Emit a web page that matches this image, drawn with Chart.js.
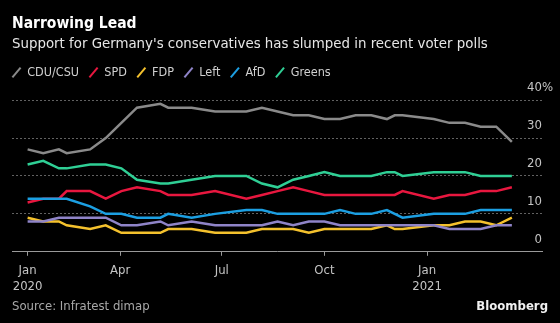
<!DOCTYPE html>
<html>
<head>
<meta charset="utf-8">
<title>Narrowing Lead</title>
<script src="https://cdn.jsdelivr.net/npm/chart.js@4.4.1/dist/chart.umd.min.js"></script>
<style>
  html, body { margin: 0; padding: 0; background: #000; }
  #chart-wrap { width: 560px; height: 323px; position: relative; }
</style>
</head>
<body>
<div id="chart-wrap"><canvas id="poll-chart"></canvas></div>
<script>
'use strict';

// POLL DATA (Infratest dimap, % of vote)

let pollDates = [
  '2020-01-09', '2020-01-23', '2020-02-06', '2020-02-13', '2020-03-05', '2020-03-19',
  '2020-04-02', '2020-04-16', '2020-05-07', '2020-05-14', '2020-06-04', '2020-06-25',
  '2020-07-23', '2020-08-06', '2020-08-20', '2020-09-03', '2020-09-17', '2020-10-01',
  '2020-10-15', '2020-10-29', '2020-11-12', '2020-11-26', '2020-12-03', '2020-12-10',
  '2021-01-07', '2021-01-21', '2021-02-04', '2021-02-18', '2021-03-04', '2021-03-18'
];

let cduCsu = [27, 26, 27, 26, 27, 30, 34, 38, 39, 38, 38, 37, 37, 38, 37, 36, 36, 35, 35, 36, 36, 35, 36, 36, 35, 34, 34, 33, 33, 29];
let spd = [13, 14, 14, 16, 16, 14, 16, 17, 16, 15, 15, 16, 14, 15, 16, 17, 16, 15, 15, 15, 15, 15, 15, 16, 14, 15, 15, 16, 16, 17];
let fdp = [9, 8, 8, 7, 6, 7, 5, 5, 5, 6, 6, 5, 5, 6, 6, 6, 5, 6, 6, 6, 6, 7, 6, 6, 7, 7, 8, 8, 7, 9];
let left = [8, 8, 9, 9, 9, 9, 7, 7, 8, 7, 8, 7, 7, 7, 8, 7, 8, 8, 7, 7, 7, 7, 7, 7, 7, 6, 6, 6, 7, 7];
let afd = [14, 14, 14, 14, 12, 10, 10, 9, 9, 10, 9, 10, 11, 11, 10, 10, 10, 10, 11, 10, 10, 11, 10, 9, 10, 10, 10, 11, 11, 11];
let greens = [23, 24, 22, 22, 23, 23, 22, 19, 18, 18, 19, 20, 20, 18, 17, 19, 20, 21, 20, 20, 20, 21, 21, 20, 21, 21, 21, 20, 20, 20];

let partyNames = ['CDU/CSU', 'SPD', 'FDP', 'Left', 'AfD', 'Greens'];
let partyValues = [cduCsu, spd, fdp, left, afd, greens];
let partyColors = ['#8a8a8a', '#e8173f', '#f4c12d', '#8f84c8', '#1c9fe2', '#2fcf95'];

// AXIS LABELS

let tickDates = ['2020-01-09', '2020-04-01', '2020-07-01', '2020-10-01', '2021-01-01'];
let tickLabels = [['Jan', '2020'], 'Apr', 'Jul', 'Oct', ['Jan', '2021']];
let yTicks = [0, 10, 20, 30, 40];
let xStart = '2019-12-26';
let xEnd = '2021-04-14';

// STYLE

let fontFamily = "'DejaVu Sans Condensed', 'DejaVu Sans', sans-serif";
let tickColor = '#c4c4c4';

// HELPERS

function dayNumber(dateStr) {
  let parts = dateStr.split('-');
  return (Date.UTC(+parts[0], +parts[1] - 1, +parts[2]) - Date.UTC(2020, 0, 1)) / 86400000;
}

let datasets = [];
for (let i = 0; i < partyNames.length; i++) {
  datasets.push({
    label: partyNames[i],
    data: pollDates.map((d, j) => ({ x: dayNumber(d), y: partyValues[i][j] })),
    borderColor: partyColors[i],
    backgroundColor: partyColors[i],
    borderWidth: 2.5,
    pointRadius: 0,
    tension: 0,
    order: partyNames.length - i
  });
}

// PLUGINS

// legend sits flush with the chart's left edge
let legendShift = {
  id: 'legendShift',
  afterLayout(chart) {
    let pad = chart.options.plugins.legend.labels.padding;
    chart.legend.left -= pad;
    chart.legend.right -= pad;
  }
};

// '%' after the top y label, source line and brand
let chartExtras = {
  id: 'chartExtras',
  afterDraw(chart) {
    let ctx = chart.ctx;
    let yScale = chart.scales.y;
    ctx.save();
    ctx.textBaseline = 'middle';
    ctx.font = '13px ' + fontFamily;
    ctx.fillStyle = tickColor;
    ctx.textAlign = 'left';
    ctx.fillText('%', yScale.left, yScale.getPixelForValue(yTicks[yTicks.length - 1]) - 12.5);

    ctx.fillStyle = '#a8a8a8';
    ctx.fillText('Source: Infratest dimap', chart.chartArea.left, chart.height - 16);

    ctx.font = 'bold 13px ' + fontFamily;
    ctx.fillStyle = '#f0f0f0';
    ctx.textAlign = 'right';
    ctx.fillText('Bloomberg', chart.width - 12, chart.height - 16);
    ctx.restore();
  }
};

// CHART

let ctx = document.getElementById('poll-chart').getContext('2d');

Chart.defaults.font.family = fontFamily;

new Chart(ctx, {
  type: 'line',
  data: { datasets: datasets },
  options: {
    responsive: true,
    maintainAspectRatio: false,
    animation: false,
    events: [],
    layout: { padding: { left: 12, right: 18, top: 0, bottom: 22 } },
    plugins: {
      title: {
        display: true,
        text: 'Narrowing Lead',
        align: 'start',
        color: '#ffffff',
        font: { size: 15.5, weight: 'bold', lineHeight: 1.2 },
        padding: { top: 15, bottom: 0 }
      },
      subtitle: {
        display: true,
        text: 'Support for Germany\'s conservatives has slumped in recent voter polls',
        align: 'start',
        color: '#e6e6e6',
        font: { size: 14.85, lineHeight: 1.2 },
        padding: { top: 2, bottom: 2.8 }
      },
      legend: {
        display: true,
        align: 'start',
        labels: {
          color: '#d0d0d0',
          font: { size: 12.5 },
          usePointStyle: true,
          boxWidth: 9,
          boxHeight: 9,
          padding: 10,
          generateLabels(chart) {
            return chart.data.datasets.map((ds, i) => ({
              text: ds.label,
              fillStyle: ds.borderColor,
              strokeStyle: ds.borderColor,
              fontColor: '#d0d0d0',
              lineWidth: 2,
              pointStyle: 'line',
              rotation: -50,
              hidden: false,
              datasetIndex: i
            }));
          }
        }
      },
      tooltip: { enabled: false }
    },
    scales: {
      x: {
        type: 'linear',
        min: dayNumber(xStart),
        max: dayNumber(xEnd),
        afterBuildTicks(scale) {
          scale.ticks = tickDates.map(d => ({ value: dayNumber(d) }));
        },
        grid: {
          drawOnChartArea: false,
          drawTicks: true,
          tickLength: 4,
          tickColor: '#9a9a9a'
        },
        border: { display: true, color: '#9a9a9a', width: 1 },
        ticks: {
          autoSkip: false,
          maxRotation: 0,
          padding: 7,
          color: tickColor,
          font: { size: 13, lineHeight: 1.2 },
          callback: (value, index) => tickLabels[index]
        }
      },
      y: {
        position: 'right',
        min: 0,
        max: 43,
        afterBuildTicks(scale) {
          scale.ticks = yTicks.map(v => ({ value: v }));
        },
        grid: {
          drawTicks: false,
          color: (c) => (c.tick && c.tick.value === 0) ? 'rgba(0,0,0,0)' : 'rgba(255,255,255,0.38)',
          lineWidth: 1
        },
        border: { display: false, dash: [2, 2] },
        ticks: {
          mirror: true,
          padding: 0,
          labelOffset: -12.5,
          color: tickColor,
          font: { size: 13 },
          callback: (value) => value
        }
      }
    }
  },
  plugins: [legendShift, chartExtras]
});
</script>
</body>
</html>
